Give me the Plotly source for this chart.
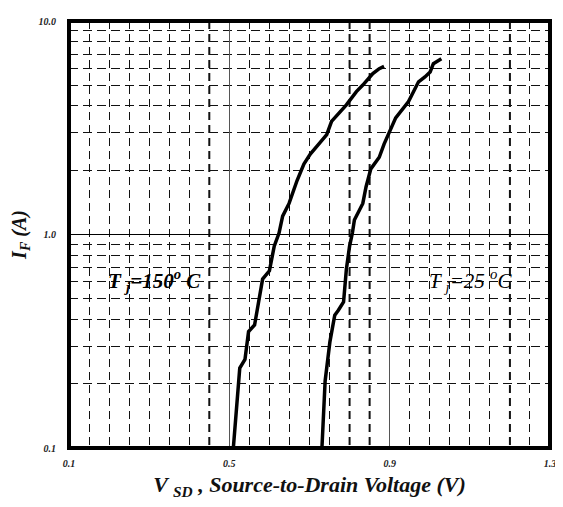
import plotly.graph_objects as go

# --- data ---
v_150 = [0.510, 0.516, 0.526, 0.539, 0.548, 0.563, 0.583, 0.600, 0.612, 0.624,
         0.633, 0.649, 0.669, 0.686, 0.702, 0.723, 0.743, 0.755, 0.792, 0.817,
         0.833, 0.858, 0.874, 0.886]
i_150 = [0.100, 0.140, 0.237, 0.260, 0.351, 0.377, 0.618, 0.676, 0.882, 1.016,
         1.218, 1.398, 1.790, 2.140, 2.380, 2.650, 2.940, 3.390, 4.050, 4.670,
         5.010, 5.670, 5.980, 6.130]

v_25 = [0.731, 0.739, 0.751, 0.763, 0.772, 0.785, 0.792, 0.800, 0.807, 0.812,
        0.833, 0.841, 0.853, 0.874, 0.886, 0.898, 0.915, 0.947, 0.972, 0.988,
        1.001, 1.009, 1.029]
i_25 = [0.100, 0.206, 0.315, 0.419, 0.442, 0.483, 0.688, 0.882, 1.016, 1.170,
        1.398, 1.670, 2.030, 2.300, 2.650, 3.000, 3.520, 4.190, 5.190, 5.470,
        5.770, 6.310, 6.650]

x_tick_vals = [0.1, 0.5, 0.9, 1.3]
x_tick_text = ["0.1", "0.5", "0.9", "1.3"]
x_minor_vals = [round(0.1 + 0.05 * k, 2) for k in range(1, 24)]
bold_grid_x = [0.45, 0.8, 0.85, 1.2]

y_tick_vals = [0.1, 1, 10]
y_tick_text = ["0.1", "1.0", "10.0"]
y_minor_vals = [d * 10 ** e for e in (-1, 0) for d in range(2, 10)]

label_150 = "T <sub>j</sub>=150<sup>o</sup> C"
label_25 = "T <sub>j</sub>=25 <sup>o</sup>C"

FONT = "Liberation Serif"
DASH = "8px,5px"

fig = go.Figure()
for vx, iy in ((v_150, i_150), (v_25, i_25)):
    fig.add_trace(go.Scatter(x=vx, y=iy, mode="lines",
                             line=dict(color="black", width=3.5),
                             showlegend=False, hoverinfo="skip"))

fig.update_xaxes(
    range=[0.1, 1.3], tickmode="array", tickvals=x_tick_vals, ticktext=x_tick_text,
    showgrid=True, gridcolor="#555", gridwidth=1,
    zeroline=False, showline=False, ticks="",
    ticklabelstandoff=8,
    tickfont=dict(family=FONT, size=10, color="#222", weight="bold", style="italic"),
    minor=dict(tickmode="array", tickvals=x_minor_vals, showgrid=True, gridcolor="#111",
               gridwidth=1, griddash=DASH),
    title=dict(text="V <sub>SD</sub> , Source-to-Drain Voltage (V)",
               font=dict(family=FONT, size=22, color="#111", weight="bold", style="italic"),
               standoff=8),
)
fig.update_yaxes(
    type="log", range=[-1, 1], tickmode="array",
    tickvals=y_tick_vals, ticktext=y_tick_text,
    showgrid=True, gridcolor="#000", gridwidth=1,
    zeroline=False, showline=False, ticks="",
    ticklabelstandoff=12,
    tickfont=dict(family=FONT, size=10, color="#222", weight="bold", style="italic"),
    minor=dict(tickmode="array", tickvals=y_minor_vals, showgrid=True,
               gridcolor="#111", gridwidth=1, griddash="9px,5px"),
    title=dict(text="I<sub>F</sub> (A)",
               font=dict(family=FONT, size=20, color="#111", weight="bold", style="italic"),
               standoff=8),
)

for gx in bold_grid_x:
    fig.add_shape(type="line", xref="x", yref="paper", x0=gx, x1=gx, y0=1, y1=0,
                  line=dict(color="#111", width=2, dash=DASH), layer="below")

fig.add_shape(type="rect", xref="paper", yref="paper", x0=0, x1=1, y0=0, y1=1,
              line=dict(color="black", width=4), layer="above")

fig.add_annotation(x=0.1 + (156 - 69) / 405.8, y=-0.215, xref="x", yref="y",
                   text=label_150, showarrow=False, xanchor="center",
                   font=dict(family=FONT, size=21, color="black", weight="bold", style="italic"))
fig.add_annotation(x=0.1 + (475 - 69) / 405.8, y=-0.215, xref="x", yref="y",
                   text=label_25, showarrow=False, xanchor="center",
                   font=dict(family=FONT, size=21, color="black", style="italic"))

fig.update_layout(
    width=555, height=499,
    margin=dict(l=61, r=7, t=7, b=59),
    paper_bgcolor="white", plot_bgcolor="white",
    showlegend=False,
)

fig.write_html("out.html")
